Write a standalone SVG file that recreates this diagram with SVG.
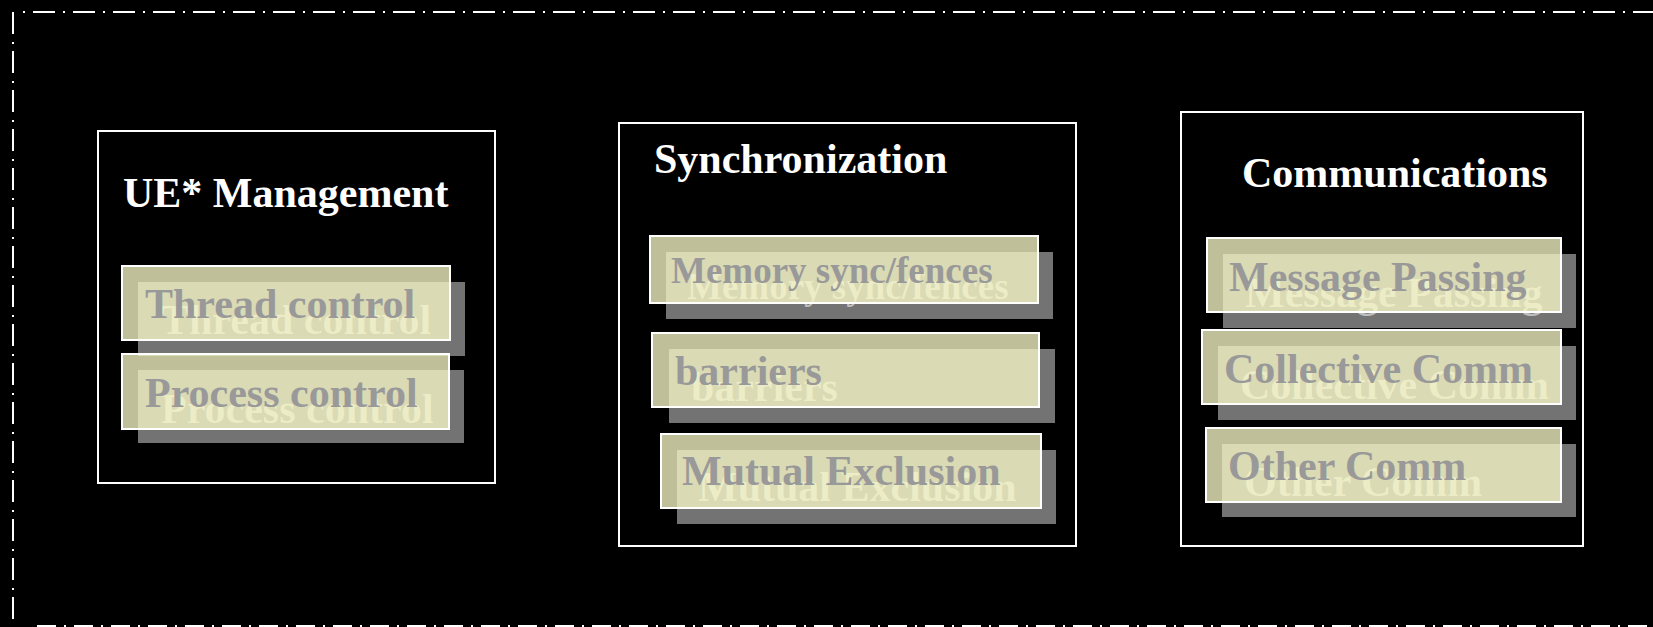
<svg xmlns="http://www.w3.org/2000/svg" width="1653" height="627" viewBox="0 0 1653 627">
<style>
.frame{fill:none;stroke:#ffffff;stroke-width:2}
.border{fill:none;stroke:#ffffff;stroke-width:2}
.title{font-family:"Liberation Serif","Times New Roman",serif;font-weight:bold;font-size:42px;fill:#ffffff}
.shadow{fill:#737373}
.item{fill:#fafac8;fill-opacity:0.765;stroke:#ffffff;stroke-width:2}
.label{font-family:"Liberation Serif","Times New Roman",serif;font-weight:bold;font-size:42px;fill:#999999}
.stext{fill:#bdbdbd}
.small{font-size:37px}
</style>
<rect x="0" y="0" width="1653" height="627" fill="#000000"/>
<g id="outer-border">
<path class="border" d="M23 12 H1653" stroke-dasharray="2 8 22 8"/>
<path class="border" d="M13 12 V627" stroke-dasharray="22 8 2 7"/>
<path class="border" d="M37 626 H1653" stroke-dasharray="19 8 2 8"/>
</g>
<g id="connectors"></g>
<g id="ue-management">
<rect class="frame" x="98" y="131" width="397" height="352"/>
<text class="title" x="123" y="207">UE* Management</text>
</g>
<g id="thread-control">
<rect class="shadow" x="138" y="282" width="327" height="74"/>
<text class="label stext" x="161" y="334">Thread control</text>
<rect class="item" x="122" y="266" width="328" height="74"/>
<text class="label" x="145" y="318">Thread control</text>
</g>
<g id="process-control">
<rect class="shadow" x="138" y="370" width="326" height="73"/>
<text class="label stext" x="161" y="423">Process control</text>
<rect class="item" x="122" y="354" width="327" height="75"/>
<text class="label" x="145" y="407">Process control</text>
</g>
<g id="synchronization">
<rect class="frame" x="619" y="123" width="457" height="423"/>
<text class="title" x="654" y="173">Synchronization</text>
</g>
<g id="memory-sync">
<rect class="shadow" x="666" y="252" width="387" height="67"/>
<text class="label stext small" x="687" y="299">Memory sync/fences</text>
<rect class="item" x="650" y="236" width="388" height="67"/>
<text class="label small" x="671" y="283">Memory sync/fences</text>
</g>
<g id="barriers">
<rect class="shadow" x="669" y="349" width="386" height="74"/>
<text class="label stext" x="691" y="401">barriers</text>
<rect class="item" x="652" y="333" width="387" height="74"/>
<text class="label" x="675" y="385">barriers</text>
</g>
<g id="mutual-exclusion">
<rect class="shadow" x="677" y="450" width="379" height="74"/>
<text class="label stext" x="698" y="501">Mutual Exclusion</text>
<rect class="item" x="661" y="434" width="380" height="74"/>
<text class="label" x="682" y="485">Mutual Exclusion</text>
</g>
<g id="communications">
<rect class="frame" x="1181" y="112" width="402" height="434"/>
<text class="title" x="1242" y="187">Communications</text>
</g>
<g id="message-passing">
<rect class="shadow" x="1223" y="254" width="353" height="74"/>
<text class="label stext" x="1245" y="307">Message Passing</text>
<rect class="item" x="1207" y="238" width="354" height="74"/>
<text class="label" x="1229" y="291">Message Passing</text>
</g>
<g id="collective-comm">
<rect class="shadow" x="1218" y="346" width="358" height="74"/>
<text class="label stext" x="1240" y="399">Collective Comm</text>
<rect class="item" x="1202" y="330" width="359" height="74"/>
<text class="label" x="1224" y="383">Collective Comm</text>
</g>
<g id="other-comm">
<rect class="shadow" x="1222" y="444" width="354" height="73"/>
<text class="label stext" x="1244" y="496">Other Comm</text>
<rect class="item" x="1206" y="428" width="355" height="74"/>
<text class="label" x="1228" y="480">Other Comm</text>
</g>
</svg>
